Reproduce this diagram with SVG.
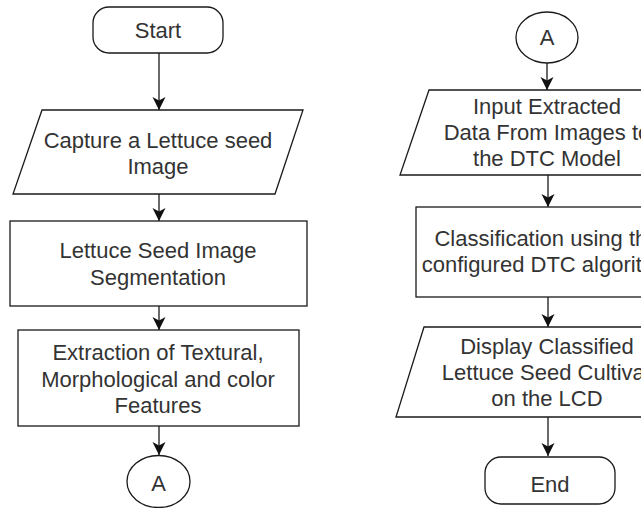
<svg xmlns="http://www.w3.org/2000/svg" width="641" height="508" viewBox="0 0 641 508">
<style>
.s{fill:#fff;stroke:#1a1a1a;stroke-width:1.3}
.c{fill:none;stroke:#1a1a1a;stroke-width:1.3}
text{font-family:"Liberation Sans",Arial,sans-serif;font-size:22px;fill:#333;text-anchor:middle}
</style>
<defs>
<marker id="ah" markerUnits="userSpaceOnUse" markerWidth="14" markerHeight="14" viewBox="0 0 14 14" refX="13" refY="7" orient="auto">
<path d="M0,0.5 L13,7 L0,13.5 L3.5,7 Z" fill="#111"/>
</marker>
</defs>
<rect width="641" height="508" fill="#fff"/>
<g id="connectors">
<line class="c" x1="159" y1="53" x2="159" y2="110" marker-end="url(#ah)"/>
<line class="c" x1="159" y1="194" x2="159" y2="221" marker-end="url(#ah)"/>
<line class="c" x1="159" y1="306" x2="159" y2="330" marker-end="url(#ah)"/>
<line class="c" x1="159" y1="426" x2="159" y2="455" marker-end="url(#ah)"/>
<line class="c" x1="547" y1="63" x2="547" y2="90" marker-end="url(#ah)"/>
<line class="c" x1="548" y1="175" x2="548" y2="207" marker-end="url(#ah)"/>
<line class="c" x1="548" y1="297" x2="548" y2="327" marker-end="url(#ah)"/>
<line class="c" x1="548" y1="417" x2="548" y2="456" marker-end="url(#ah)"/>
</g>
<g id="start">
<rect class="s" x="93" y="7" width="130" height="46" rx="16"/>
<text x="158" y="38">Start</text>
</g>
<g id="capture">
<path class="s" d="M42,110 L303,110 L275,194 L13,194 Z"/>
<text x="158" y="148">Capture a Lettuce seed</text>
<text x="158" y="174">Image</text>
</g>
<g id="segmentation">
<rect class="s" x="10" y="221" width="297" height="85"/>
<text x="158" y="258">Lettuce Seed Image</text>
<text x="158" y="285">Segmentation</text>
</g>
<g id="extraction">
<rect class="s" x="18" y="330" width="281" height="96"/>
<text x="158" y="360">Extraction of Textural,</text>
<text x="158" y="387">Morphological and color</text>
<text x="158" y="413">Features</text>
</g>
<g id="connA1">
<ellipse class="s" cx="158.5" cy="481.5" rx="31.5" ry="26"/>
<text x="158.5" y="491">A</text>
</g>
<g id="connA2">
<ellipse class="s" cx="547" cy="37.5" rx="31" ry="25.5"/>
<text x="547" y="45">A</text>
</g>
<g id="input">
<path class="s" d="M429,90 L700,90 L671,175 L400,175 Z"/>
<text x="547" y="114">Input Extracted</text>
<text x="547" y="140">Data From Images to</text>
<text x="547" y="166">the DTC Model</text>
</g>
<g id="classification">
<rect class="s" x="416" y="207" width="280" height="90"/>
<text x="547" y="246">Classification using the</text>
<text x="547" y="272">configured DTC algorithm</text>
</g>
<g id="display">
<path class="s" d="M424,327 L700,327 L672,417 L396,417 Z"/>
<text x="547" y="354">Display Classified</text>
<text x="547" y="380">Lettuce Seed Cultivar</text>
<text x="547" y="406">on the LCD</text>
</g>
<g id="end">
<rect class="s" x="485" y="457" width="130" height="47" rx="16"/>
<text x="550" y="492">End</text>
</g>
</svg>
